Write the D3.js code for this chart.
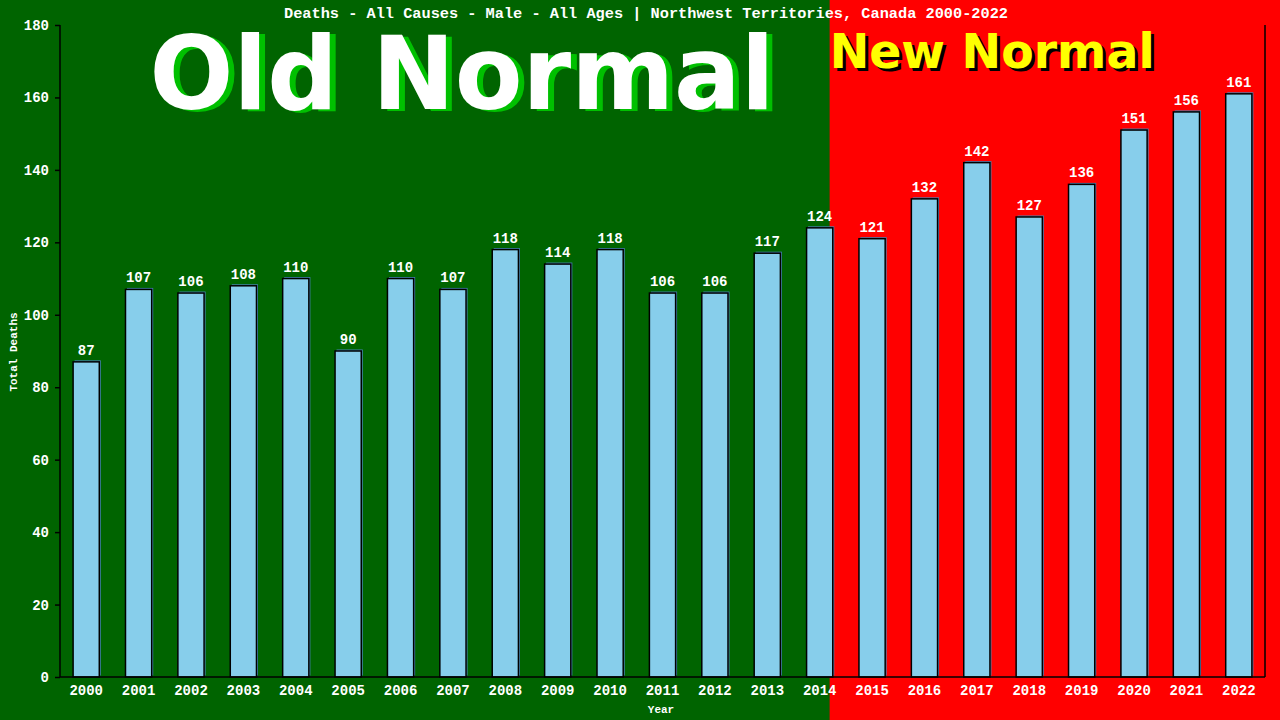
<!DOCTYPE html>
<html><head><meta charset="utf-8">
<script src="https://cdn.jsdelivr.net/npm/d3@7"></script>
<style>
html,body{margin:0;padding:0;background:#006400;}
svg{display:block;}
text{font-family:"Liberation Mono","DejaVu Sans Mono",monospace;}
</style></head>
<body>
<svg id="chart" width="1280" height="720"></svg>
<script>
const years = ["2000","2001","2002","2003","2004","2005","2006","2007","2008","2009","2010","2011","2012","2013","2014","2015","2016","2017","2018","2019","2020","2021","2022"];
const deaths = [87,107,106,108,110,90,110,107,118,114,118,106,106,117,124,121,132,142,127,136,151,156,161];
const yTicks = [0,20,40,60,80,100,120,140,160,180];
const titleText = "Deaths - All Causes - Male - All Ages | Northwest Territories, Canada 2000-2022";
const oldLabel = "Old Normal";
const newLabel = "New Normal";
const splitYear = "2014";

const W = 1280, H = 720;
const m = {left:60, right:15, top:25, bottom:43};
const svg = d3.select("#chart");

const x = d3.scaleBand().domain(years).range([m.left, W - m.right]).paddingInner(0.5).paddingOuter(0.25);
const y = d3.scaleLinear().domain([0,180]).range([H - m.bottom, m.top]);

// backgrounds
const splitX = x(splitYear) + x.bandwidth()*0.88;
svg.append("rect").attr("x",0).attr("y",0).attr("width",W).attr("height",H).attr("fill","#006400");
svg.append("rect").attr("x",splitX).attr("y",0).attr("width",W-splitX).attr("height",H).attr("fill","#ff0000");

// big labels
const oldCx = 462;
const bigFont = "'DejaVu Sans',Verdana,sans-serif";
svg.append("text").attr("x",oldCx+6).attr("y",111).attr("text-anchor","middle")
  .style("font-family",bigFont).style("font-weight","bold").style("font-size","102px")
  .attr("textLength",625).attr("lengthAdjust","spacingAndGlyphs")
  .attr("fill","#00c000").text(oldLabel);
svg.append("text").attr("x",oldCx).attr("y",109).attr("text-anchor","middle")
  .style("font-family",bigFont).style("font-weight","bold").style("font-size","102px")
  .attr("textLength",625).attr("lengthAdjust","spacingAndGlyphs")
  .attr("fill","#ffffff").text(oldLabel);

svg.append("text").attr("x",splitX+3).attr("y",71).attr("text-anchor","start")
  .style("font-family",bigFont).style("font-weight","bold").style("font-size","48px")
  .attr("textLength",325).attr("lengthAdjust","spacingAndGlyphs")
  .attr("fill","#000000").text(newLabel);
svg.append("text").attr("x",splitX).attr("y",68).attr("text-anchor","start")
  .style("font-family",bigFont).style("font-weight","bold").style("font-size","48px")
  .attr("textLength",325).attr("lengthAdjust","spacingAndGlyphs")
  .attr("fill","#ffff00").text(newLabel);

// title
svg.append("text").attr("x",646).attr("y",18).attr("text-anchor","middle")
  .style("font-size","15px").style("font-weight","bold")
  .attr("textLength",724).attr("lengthAdjust","spacingAndGlyphs")
  .attr("fill","#ffffff").text(titleText);

// bars
const g = svg.append("g");
g.selectAll("rect.shadow").data(years).join("rect").attr("class","shadow")
  .attr("x", d => x(d)+1.5).attr("y", (d,i) => y(deaths[i]) - 1.5)
  .attr("width", x.bandwidth()).attr("height", (d,i) => y(0) - y(deaths[i]))
  .attr("fill","#4682b4");
g.selectAll("rect.bar").data(years).join("rect").attr("class","bar")
  .attr("x", d => x(d)).attr("y", (d,i) => y(deaths[i]))
  .attr("width", x.bandwidth()).attr("height", (d,i) => y(0) - y(deaths[i]))
  .attr("fill","#87ceeb").attr("stroke","#000").attr("stroke-width",1.5);
g.selectAll("text.val").data(years).join("text").attr("class","val")
  .attr("x", d => x(d) + x.bandwidth()/2).attr("y", (d,i) => y(deaths[i]) - 7)
  .attr("text-anchor","middle").style("font-size","14px").style("font-weight","bold")
  .attr("fill","#fff").text((d,i) => deaths[i]);

// axes
const yAxis = svg.append("g").attr("transform",`translate(${m.left},0)`)
  .call(d3.axisLeft(y).tickValues(yTicks).tickSize(5).tickPadding(6));
const xAxis = svg.append("g").attr("transform",`translate(0,${H-m.bottom})`)
  .call(d3.axisBottom(x).tickSize(0).tickPadding(8));
[yAxis,xAxis].forEach(a => {
  a.selectAll("path,line").attr("stroke","#000").attr("stroke-width",1.5);
  a.selectAll("text").attr("fill","#fff").style("font-size","14px").style("font-weight","bold")
   .style("font-family","'Liberation Mono','DejaVu Sans Mono',monospace");
});
yAxis.select("path").attr("d",`M0,${y(180)}V${y(0)}`);
xAxis.select("path").attr("d",`M${m.left},0H${W-m.right}`);
svg.append("line").attr("x1",W-m.right).attr("x2",W-m.right).attr("y1",y(180)).attr("y2",y(0))
  .attr("stroke","#000").attr("stroke-width",1.5);

// axis titles
svg.append("text").attr("transform",`translate(17,352) rotate(-90)`).attr("text-anchor","middle")
  .style("font-size","11px").style("font-weight","bold").attr("fill","#fff").text("Total Deaths");
svg.append("text").attr("x",661).attr("y",713).attr("text-anchor","middle")
  .style("font-size","11px").style("font-weight","bold").attr("fill","#fff").text("Year");
</script>
</body></html>
